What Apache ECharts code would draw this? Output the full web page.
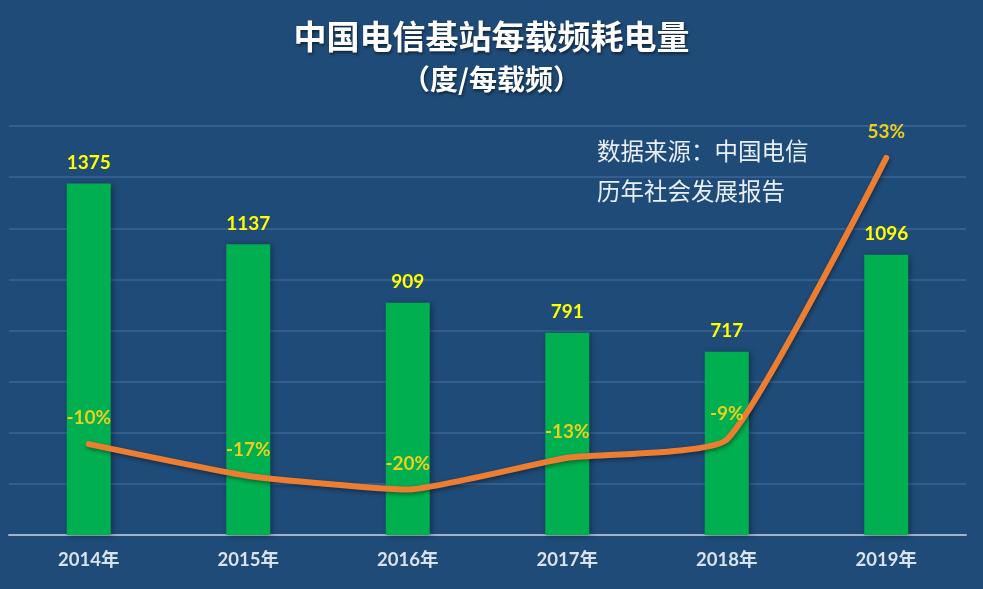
<!DOCTYPE html>
<html lang="zh">
<head>
<meta charset="UTF-8">
<title>中国电信基站每载频耗电量</title>
<style>
  html, body { margin: 0; padding: 0; background: #1F4B78; }
  #chart { width: 983px; height: 589px; }
</style>
</head>
<body>
<div id="chart"></div>
<script src="https://cdn.jsdelivr.net/npm/echarts@6/dist/echarts.min.js"></script>
<script>
var years = ['2014年', '2015年', '2016年', '2017年', '2018年', '2019年'];
var power = [1375, 1137, 909, 791, 717, 1096];
var growth = [-10, -17, -20, -13, -9, 53];

var font = 'Lato, "Noto Sans CJK SC", sans-serif';
var cjk = '"Noto Sans CJK SC", sans-serif';

var chart = echarts.init(document.getElementById('chart'));
var option = {
  backgroundColor: '#1F4B78',
  textStyle: { fontFamily: font },
  title: [
    {
      text: '中国电信基站每载频耗电量',
      left: 'center',
      top: 15,
      textStyle: {
        color: '#ffffff', fontSize: 33, fontWeight: 'bold', fontFamily: cjk,
        textShadowColor: 'rgba(0,0,0,0.5)', textShadowBlur: 3, textShadowOffsetX: 1, textShadowOffsetY: 2
      }
    },
    {
      text: '（度/每载频）',
      left: 'center',
      top: 60,
      textStyle: {
        color: '#ffffff', fontSize: 28, fontWeight: 'bold', fontFamily: cjk,
        textShadowColor: 'rgba(0,0,0,0.5)', textShadowBlur: 3, textShadowOffsetX: 1, textShadowOffsetY: 2
      }
    }
  ],
  graphic: [
    {
      type: 'text',
      left: 597,
      top: 131,
      style: {
        text: '数据来源：中国电信\n历年社会发展报告',
        fill: '#e9eef5',
        font: '23.5px "Noto Sans CJK SC", sans-serif',
        lineHeight: 40
      }
    }
  ],
  grid: { left: 9, right: 17, top: 126, bottom: 54 },
  xAxis: {
    type: 'category',
    data: years,
    axisTick: { show: false },
    axisLine: { lineStyle: { color: '#9fb3cb', width: 2 } },
    axisLabel: { color: '#d9e2ee', fontSize: 18.5, fontWeight: 'bold', margin: 16, fontFamily: font }
  },
  yAxis: [
    {
      type: 'value',
      min: 0, max: 1600, interval: 200,
      axisLabel: { show: false },
      axisLine: { show: false },
      axisTick: { show: false },
      splitLine: { lineStyle: { color: '#3b6594', width: 1.5 } }
    },
    {
      type: 'value',
      min: -30, max: 60,
      show: false,
      splitLine: { show: false }
    }
  ],
  series: [
    {
      type: 'bar',
      data: power,
      barWidth: 44,
      itemStyle: {
        color: '#00B050',
        shadowColor: 'rgba(0,0,0,0.35)', shadowBlur: 6, shadowOffsetX: 2, shadowOffsetY: 1
      },
      label: {
        show: true, position: 'top', distance: 11,
        color: '#FFFF00', fontSize: 19, fontWeight: 'bold', fontFamily: font
      },
      z: 2
    },
    {
      type: 'line',
      yAxisIndex: 1,
      data: growth,
      smooth: 0.15,
      symbol: 'circle',
      symbolSize: 1,
      showSymbol: true,
      itemStyle: { color: 'rgba(0,0,0,0)' },
      lineStyle: {
        color: '#ED7D31', width: 6, cap: 'round',
        shadowColor: 'rgba(0,0,0,0.4)', shadowBlur: 4, shadowOffsetX: 1, shadowOffsetY: 2
      },
      label: {
        show: true, position: 'top', distance: 16,
        color: '#ECCF1C', fontSize: 19, fontWeight: 'bold', fontFamily: font,
        formatter: function (p) { return p.value + '%'; }
      },
      z: 3
    }
  ]
};
chart.setOption(option);
</script>
</body>
</html>
